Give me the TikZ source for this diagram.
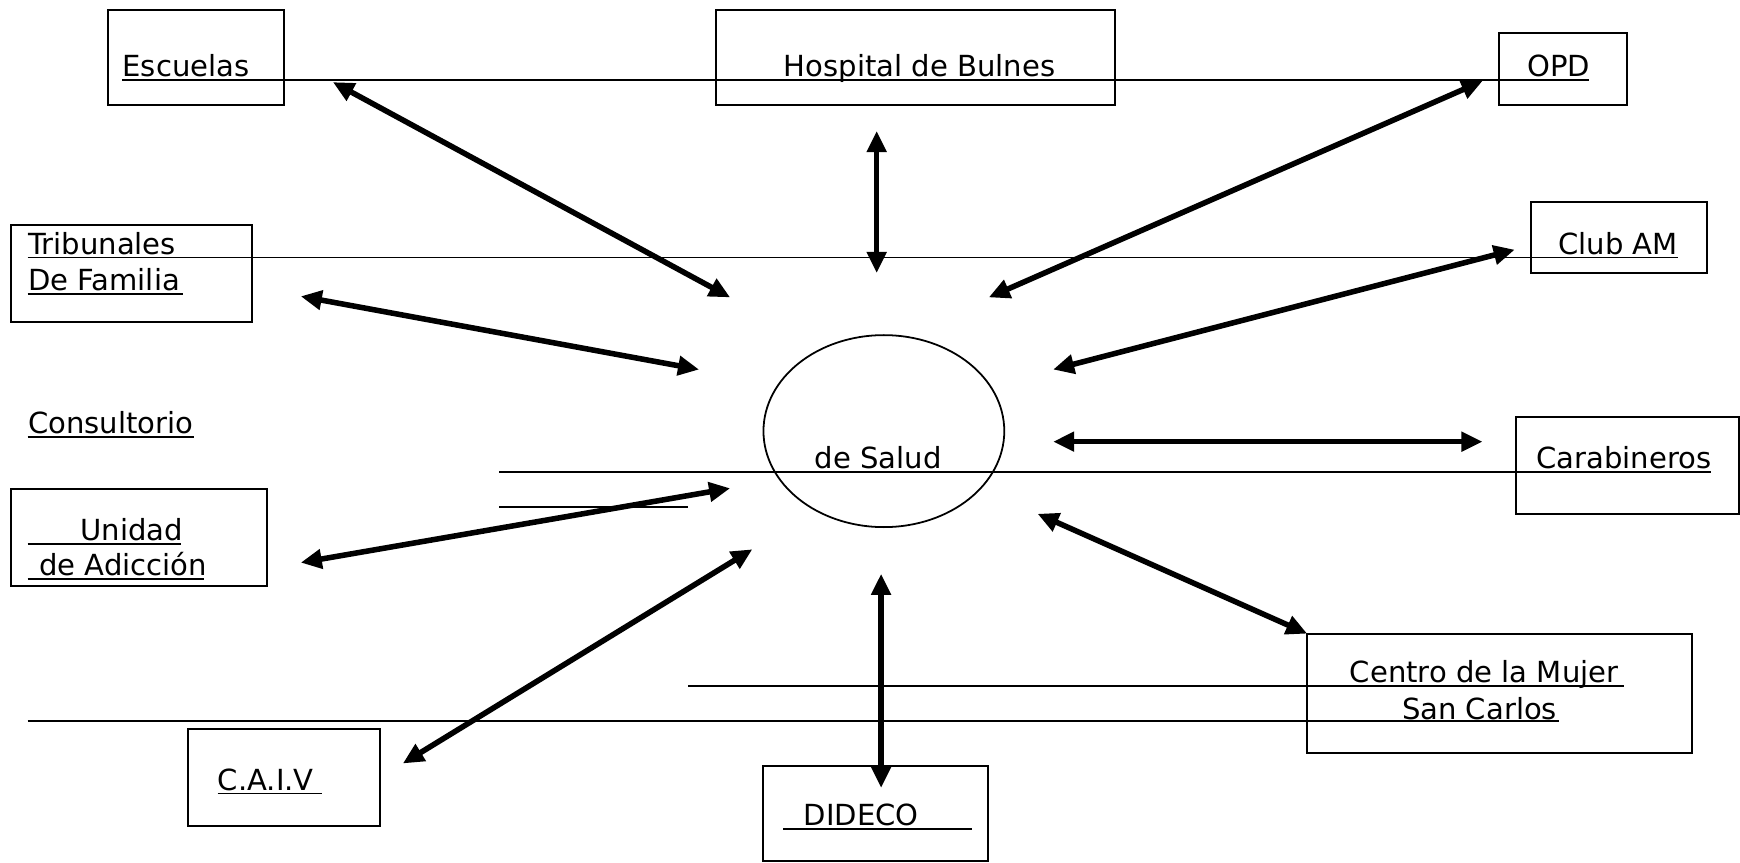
\documentclass[tikz,border=0pt]{standalone}
\usepackage{fontspec}
\setmainfont{DejaVu Sans}
\usetikzlibrary{arrows.meta,shapes.geometric,fit}
\begin{document}
\begin{tikzpicture}[x=0.5pt,y=-0.5pt,
  box/.style={draw,line width=0.9pt,inner sep=0pt},
  txt/.style={inner sep=0pt,anchor=base west,font=\fontsize{13.1}{16}\selectfont},
  uline/.style={line width=0.8pt},
  arr/.style={line width=2.5pt,{Triangle[length=9.5pt,width=8.5pt]}-{Triangle[length=9.5pt,width=8.5pt]}}]
\useasboundingbox (0,0) rectangle (1568,777);
% boxes
\node[box,fit={(97,9) (256,95)}] (escuelas) {};
\node[box,fit={(645,9) (1005,95)}] (hospital) {};
\node[box,fit={(1351,30) (1466,95)}] (opd) {};
\node[box,fit={(10,203) (227,290)}] (tribunales) {};
\node[box,fit={(1380,182) (1538,246)}] (club) {};
\node[box,fit={(10,441) (241,528)}] (unidad) {};
\node[box,fit={(1366,376) (1567,463)}] (carab) {};
\node[box,fit={(1178,571) (1525,679)}] (centro) {};
\node[box,fit={(169,657) (342,744)}] (caiv) {};
\node[box,fit={(688,690) (890,776)}] (dideco) {};
\node[draw,ellipse,line width=0.8pt,minimum width=108.5pt,minimum height=86.5pt,inner sep=0pt] (salud) at (796.5,388.5) {};
% texts
\node[txt] (tEsc) at (110,69) {Escuelas};
\node[txt] (tHos) at (706,69) {Hospital de Bulnes};
\node[txt] (tOpd) at (1376,69) {OPD};
\node[txt] (tTri) at (25,229) {Tribunales};
\node[txt] (tFam) at (25,262) {De Familia};
\node[txt] (tClub) at (1404,229) {Club AM};
\node[txt] (tCons) at (25,391) {Consultorio};
\node[txt] (tSal) at (734,422) {de Salud};
\node[txt] (tCar) at (1384,422) {Carabineros};
\node[txt] (tUni) at (72,487) {Unidad};
\node[txt] (tAdi) at (35,519) {de Adicción};
\node[txt] (tCen) at (1216,615) {Centro de la Mujer};
\node[txt] (tSan) at (1263,648) {San Carlos};
\node[txt] (tCaiv) at (196,712) {C.A.I.V};
\node[txt] (tDid) at (724,744) {DIDECO};
% underlines
\draw[uline] (110,72) -- (1432,72);
\draw[uline] (25,232) -- (1512,232);
\draw[uline] (25,265) -- (165,265);
\draw[uline] (25,394) -- (175,394);
\draw[uline] (450,425) -- (1542,425);
\draw[uline] (450,457) -- (620,457);
\draw[uline] (25,490) -- (163,490);
\draw[uline] (25,522) -- (184,522);
\draw[uline] (620,618) -- (1463,618);
\draw[uline] (25,650) -- (1405,650);
\draw[uline] (196,715) -- (290,715);
\draw[uline] (706,747) -- (876,747);
% arrow ends
\coordinate (escA) at (300,74);   \coordinate (escB) at (658,268);
\coordinate (hosA) at (790,118);  \coordinate (hosB) at (790,246);
\coordinate (opdA) at (1336,73);  \coordinate (opdB) at (891,268);
\coordinate (triA) at (271,267);  \coordinate (triB) at (630,333);
\coordinate (cluA) at (1365,225); \coordinate (cluB) at (949,333);
\coordinate (carA) at (1336,398); \coordinate (carB) at (949,398);
\coordinate (uniA) at (271,507);  \coordinate (uniB) at (658,440);
\coordinate (caiA) at (363,688);  \coordinate (caiB) at (678,495);
\coordinate (didA) at (794,710);  \coordinate (didB) at (794,517);
\coordinate (cenA) at (1178,571); \coordinate (cenB) at (935,463);
\draw[arr] (escA) -- (escB);
\draw[arr] (hosA) -- (hosB);
\draw[arr] (opdA) -- (opdB);
\draw[arr] (triA) -- (triB);
\draw[arr] (cluA) -- (cluB);
\draw[arr] (carA) -- (carB);
\draw[arr] (uniA) -- (uniB);
\draw[arr] (caiA) -- (caiB);
\draw[arr] (didA) -- (didB);
\draw[arr] (cenA) -- (cenB);
\end{tikzpicture}
\end{document}
